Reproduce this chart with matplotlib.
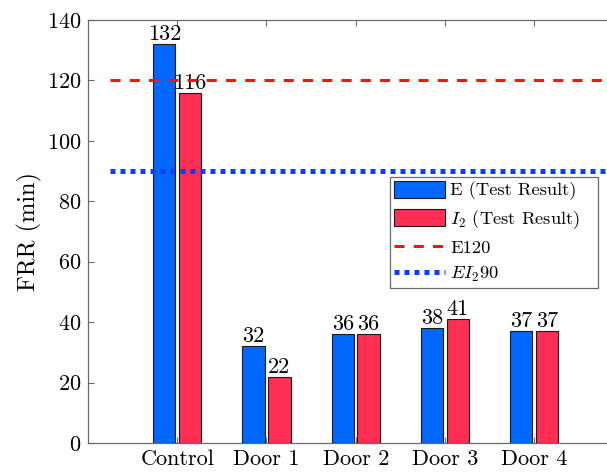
"""FRR of the control specimen and the four doors, E and I2 test results."""

import matplotlib
matplotlib.use("Agg")
import matplotlib.pyplot as plt
import numpy as np
from matplotlib.patches import Patch
from matplotlib.lines import Line2D

plt.rcParams["font.family"] = "serif"
plt.rcParams["font.serif"] = ["cmr10", "DejaVu Serif"]
plt.rcParams["mathtext.fontset"] = "cm"
plt.rcParams["axes.formatter.use_mathtext"] = True

specimens = ["Control", "Door 1", "Door 2", "Door 3", "Door 4"]
eResult = [132, 32, 36, 38, 37]
iResult = [116, 22, 36, 41, 37]
e120 = 120
ei90 = 90

blue = "#0068FF"
red = "#FF2E55"
axisGray = "#6a6a6a"
redDash = (0, (3.3, 3.0))
blueDot = (0, (1, 1))

fig = plt.figure(figsize=(6.07, 4.75), dpi=100)
ax = fig.add_axes([0.145, 0.0674, 0.882, 0.8905])   # right side runs past the figure, as in the crop

x = np.arange(1, len(specimens) + 1)
width = 0.25
off = 0.145

barsE = ax.bar(x - off, eResult, width, color=blue, edgecolor="#1a1a1a", linewidth=0.8, zorder=3)
barsI = ax.bar(x + off, iResult, width, color=red, edgecolor="#1a1a1a", linewidth=0.8, zorder=3)
ax.bar_label(barsE, padding=0, fontsize=16)
ax.bar_label(barsI, padding=0, fontsize=16)

ax.plot([0.25, 6], [e120, e120], color="#FF1010", linestyle=redDash, linewidth=2.2, zorder=4)
ax.plot([0.25, 6], [ei90, ei90], color="#0A3CFF", linestyle=blueDot, linewidth=3.6,
        dash_capstyle="butt", zorder=4)

ax.set_xlim(0, 6)
ax.set_ylim(0, 140)
ax.set_xticks(x)
ax.set_xticklabels(specimens)
ax.set_yticks(np.arange(0, 141, 20))
ax.tick_params(direction="in", length=4, width=0.8, color=axisGray, labelsize=16,
               top=True, right=True, pad=5)
for spine in ax.spines.values():
    spine.set_color(axisGray)
    spine.set_linewidth(0.9)
ax.set_ylabel("FRR (min)", fontsize=17.5, labelpad=3.5)

handles = [
    Patch(facecolor=blue, edgecolor="#1a1a1a", linewidth=0.8),
    Patch(facecolor=red, edgecolor="#1a1a1a", linewidth=0.8),
    Line2D([0], [0], color="#FF1010", linestyle=redDash, linewidth=2.2),
    Line2D([0], [0], color="#0A3CFF", linestyle=blueDot, linewidth=3.6, dash_capstyle="butt"),
]
labels = ["E (Test Result)", "$I_2$ (Test Result)", "E120", "$EI_2$90"]
# legend box spans x 390..598 px, top at 177 px (figure pixels)
legend = ax.legend(handles, labels, loc="upper left", mode="expand",
                   bbox_to_anchor=(390 / 607, 1 - 287 / 475, 208 / 607, 110 / 475),
                   bbox_transform=fig.transFigure, fontsize=13.3, frameon=True, fancybox=False,
                   edgecolor=axisGray, framealpha=1, borderpad=0.2, labelspacing=0.42,
                   handlelength=2.8, handleheight=1.05, handletextpad=0.25, borderaxespad=0)
legend.get_frame().set_linewidth(0.9)

fig.savefig("out.png", dpi=100)
